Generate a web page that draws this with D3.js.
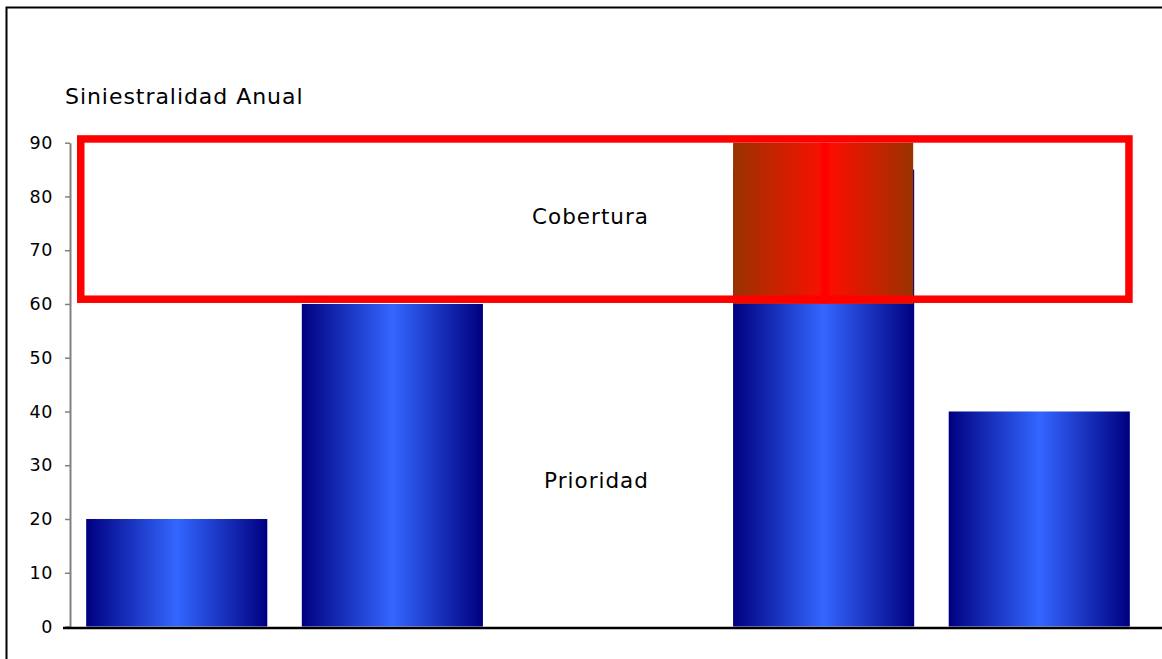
<!DOCTYPE html>
<html>
<head>
<meta charset="utf-8">
<script src="https://cdn.jsdelivr.net/npm/d3@7/dist/d3.min.js"></script>
<style>
  html, body { margin: 0; padding: 0; background: #fff; }
  svg { display: block; }
  text { font-family: "DejaVu Sans", Verdana, sans-serif; fill: #000; }
</style>
</head>
<body>
<svg id="chart" width="1162" height="659"></svg>
<script>
// Annual loss per year (blue bars); the middle year has no bar
const years = ["1", "2", "3", "4", "5"];
const siniestralidad = [20, 60, null, 85, 40];

// Reinsurance layer: retention (Prioridad) up to 60, cover (Cobertura) from 60 to 90
const prioridad = 60;
const coberturaTop = 90;

// Y axis ticks
const yTicks = [0, 10, 20, 30, 40, 50, 60, 70, 80, 90];

const titleText = "Siniestralidad Anual";
const coberturaLabel = "Cobertura";
const prioridadLabel = "Prioridad";

const svg = d3.select("#chart");
const W = 1162, H = 659;

const x = d3.scaleBand()
  .domain(years)
  .range([70, 1146])
  .paddingInner(0.16)
  .paddingOuter(0.075);

const y = d3.scaleLinear()
  .domain([0, 90])
  .range([626.5, 142.7]);

// Gradients
const defs = svg.append("defs");
const blue = defs.append("linearGradient").attr("id", "gBlue")
  .attr("x1", "0%").attr("x2", "100%").attr("y1", "0%").attr("y2", "0%");
[[0, "#000080"], [0.5, "#3366ff"], [1, "#000080"]].forEach(([o, c]) =>
  blue.append("stop").attr("offset", o).attr("stop-color", c));

const red = defs.append("linearGradient").attr("id", "gRed")
  .attr("x1", "0%").attr("x2", "100%").attr("y1", "0%").attr("y2", "0%");
[[0, "#993300"], [0.48, "#f51200"], [0.495, "#ff0000"], [0.525, "#ff0000"], [0.54, "#fb0e00"], [1, "#993300"]]
  .forEach(([o, c]) => red.append("stop").attr("offset", o).attr("stop-color", c));

// Outer frame
svg.append("path")
  .attr("d", `M6.5,${H + 5} V7.5 H${W + 5}`)
  .attr("fill", "none")
  .attr("stroke", "#000")
  .attr("stroke-width", 2);

// Title
svg.append("text")
  .attr("x", 65).attr("y", 103.5)
  .style("font-size", "22px")
  .style("letter-spacing", "0.95px")
  .text(titleText);

// Blue bars
const barData = years.map((k, i) => ({ k, v: siniestralidad[i] })).filter(d => d.v != null);
svg.append("g").selectAll("rect").data(barData).join("rect")
  .attr("x", d => x(d.k))
  .attr("width", x.bandwidth())
  .attr("y", d => y(d.v))
  .attr("height", d => y(0) - y(d.v))
  .attr("fill", "url(#gBlue)");

// Portion of each loss that falls inside the cover layer
const layerData = barData.filter(d => d.v > prioridad);
svg.append("g").selectAll("rect").data(layerData).join("rect")
  .attr("x", d => x(d.k))
  .attr("width", x.bandwidth() - 1)
  .attr("y", y(coberturaTop))
  .attr("height", y(prioridad) - y(coberturaTop))
  .attr("fill", "url(#gRed)");

// Cover layer outline
const sw = 7.5;
svg.append("rect")
  .attr("x", 77 + sw / 2)
  .attr("y", y(coberturaTop) - sw / 2)
  .attr("width", 1132.7 - 77 - sw)
  .attr("height", y(prioridad) - y(coberturaTop) - 1)
  .attr("fill", "none")
  .attr("stroke", "#ff0000")
  .attr("stroke-width", sw);

// Y axis
const yAxis = svg.append("g")
  .attr("transform", "translate(70,0)")
  .call(d3.axisLeft(y).tickValues(yTicks).tickSize(5).tickPadding(12).tickSizeOuter(0));
yAxis.select(".domain").attr("stroke", "#808080").attr("stroke-width", 2);
yAxis.selectAll(".tick line").attr("stroke", "#808080").attr("stroke-width", 1.5);
yAxis.selectAll(".tick text")
  .style("font-family", "'DejaVu Sans', Verdana, sans-serif")
  .style("font-size", "17.5px")
  .style("letter-spacing", "0.6px")
  .attr("fill", "#000");

// X baseline
svg.append("line")
  .attr("x1", 63).attr("x2", W)
  .attr("y1", y(0) + 1.5).attr("y2", y(0) + 1.5)
  .attr("stroke", "#000").attr("stroke-width", 2.5);

// Layer labels
svg.append("text")
  .attr("x", 590.5).attr("y", 223.5)
  .attr("text-anchor", "middle")
  .style("font-size", "21.5px")
  .style("letter-spacing", "1px")
  .text(coberturaLabel);

svg.append("text")
  .attr("x", 596.5).attr("y", 488.3)
  .attr("text-anchor", "middle")
  .style("font-size", "21.5px")
  .style("letter-spacing", "1px")
  .text(prioridadLabel);
</script>
</body>
</html>
